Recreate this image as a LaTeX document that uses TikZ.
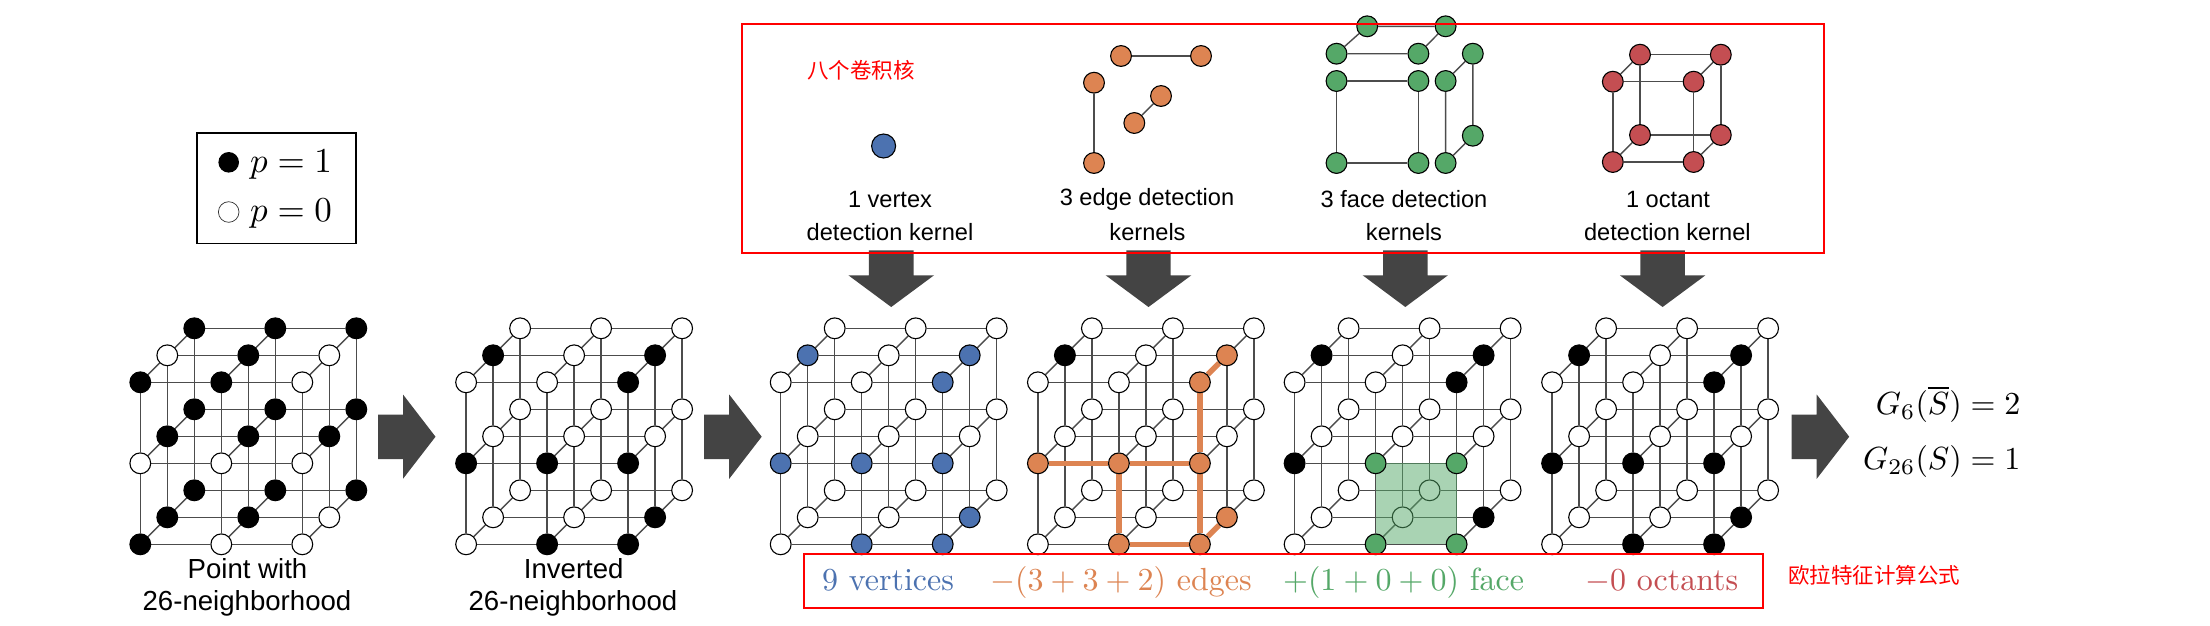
\documentclass[tikz,border=0pt]{standalone}
\usepackage{graphicx}
\usepackage[no-math]{fontspec}
\newfontfamily\arial{Liberation Sans}
\newfontfamily\cjk{Noto Sans CJK SC}
\definecolor{kblue}{HTML}{4C72B0}
\definecolor{korange}{HTML}{DD8452}
\definecolor{kgreen}{HTML}{55A868}
\definecolor{kred}{HTML}{C44E52}
\definecolor{kgray}{HTML}{444444}
\definecolor{boxred}{HTML}{FF0000}
\pgfdeclarelayer{edges}
\pgfdeclarelayer{face}
\pgfdeclarelayer{top}
\pgfsetlayers{edges,main,face,top}
\tikzset{
  dot/.style={circle,draw=black,line width=1.1pt,inner sep=0pt,minimum size=20.8pt},
  pt-w/.style={dot,fill=white},
  pt-b/.style={dot,fill=black},
  pt-B/.style={dot,fill=kblue},
  pt-O/.style={dot,fill=korange},
  pt-G/.style={dot,fill=kgreen},
  pt-R/.style={dot,fill=kred},
  edge/.style={draw=black!70,line width=1.4pt},
  thickedge/.style={draw=korange,line width=5.4pt},
  redbox/.style={draw=boxred,line width=1.9pt},
  blockarrow/.style={fill=kgray},
  sans/.style={font=\arial\fontsize{23.6}{28}\selectfont,text=black,inner sep=0pt,anchor=center},
  capt/.style={font=\arial\fontsize{27.6}{32}\selectfont,text=black,inner sep=0pt,anchor=center},
  cjklabel/.style={font=\cjk\fontsize{21.5}{26}\selectfont,text=boxred,inner sep=0pt,anchor=center},
  maths/.style={inner sep=0pt,anchor=base west},
}
% \makecube{name}{front-left x}{27 states: back to front, top to bottom, left to right}
\newcommand{\makecube}[3]{%
  \foreach \ptc [count=\n from 0] in {#3}{%
    \pgfmathtruncatemacro{\kk}{2-int(\n/9)}%
    \pgfmathtruncatemacro{\jj}{2-mod(int(\n/3),3)}%
    \pgfmathtruncatemacro{\ii}{mod(\n,3)}%
    \def\lay{main}\if G\ptc\def\lay{top}\fi
    \begin{pgfonlayer}{\lay}
      \node[pt-\ptc] (#1-\ii-\jj-\kk) at ({#2+81*\ii+27*\kk},{544.3-81*\jj-27*\kk}) {};
    \end{pgfonlayer}
  }%
  \begin{pgfonlayer}{edges}
    \foreach \a in {0,1,2}\foreach \b in {0,1,2}{%
      \draw[edge] (#1-0-\a-\b) -- (#1-1-\a-\b) (#1-1-\a-\b) -- (#1-2-\a-\b);
      \draw[edge] (#1-\a-0-\b) -- (#1-\a-1-\b) (#1-\a-1-\b) -- (#1-\a-2-\b);
      \draw[edge] (#1-\a-\b-0) -- (#1-\a-\b-1) (#1-\a-\b-1) -- (#1-\a-\b-2);
    }
  \end{pgfonlayer}
}
% \rightblock{left x}
\newcommand{\rightblock}[1]{%
  \fill[blockarrow] (#1,414.5) -- (#1+25,414.5) -- (#1+25,394.5) -- (#1+57.5,436.7)
    -- (#1+25,478.8) -- (#1+25,459) -- (#1,459) -- cycle;
}
% \downblock{centre x}{half shaft}{half head}
\newcommand{\downblock}[3]{%
  \fill[blockarrow] (#1-#2,250.3) -- (#1+#2,250.3) -- (#1+#2,275.3) -- (#1+#3,275.3)
    -- (#1,307) -- (#1-#3,275.3) -- (#1-#2,275.3) -- cycle;
}
\begin{document}
\begin{tikzpicture}[x=1pt,y=-1pt]
\begin{pgfonlayer}{edges}
\fill[white] (0,0) rectangle (2210,625);
\end{pgfonlayer}
\useasboundingbox (0,0) rectangle (2210,625);

% legend
\node[draw=black,line width=1.7pt,minimum width=159pt,minimum height=110.3pt,inner sep=0pt] (legend) at (276.2,188.2) {};
\node[circle,fill=black,inner sep=0pt,minimum size=20.6pt] (legb) at (228.7,162.3) {};
\node[circle,draw=black!80,fill=white,line width=.7pt,inner sep=0pt,minimum size=20.6pt] (legw) at (228.7,212) {};
\node[maths] (legt1) at (250,172.3) {\scalebox{3.5}{$p=1$}};
\node[maths] (legt0) at (250,221.7) {\scalebox{3.5}{$p=0$}};

% cubes
\makecube{A}{140.3}{b,b,b, b,b,b, b,b,b, w,b,w, b,b,b, b,b,w, b,b,w, w,w,w, b,w,w}
\makecube{I}{466.1}{w,w,w, w,w,w, w,w,w, b,w,b, w,w,w, w,w,b, w,w,b, b,b,b, w,b,b}
\makecube{V}{780.7}{w,w,w, w,w,w, w,w,w, B,w,B, w,w,w, w,w,B, w,w,B, B,B,B, w,B,B}
\makecube{E}{1037.9}{w,w,w, w,w,w, w,w,w, b,w,O, w,w,w, w,w,O, w,w,O, O,O,O, w,O,O}
\makecube{F}{1294.6}{w,w,w, w,w,w, w,w,w, b,w,b, w,w,w, w,w,b, w,w,b, b,G,G, w,G,G}
\makecube{C}{1552.1}{w,w,w, w,w,w, w,w,w, b,w,b, w,w,w, w,w,b, w,w,b, b,b,b, w,b,b}

% highlighted edges of the fourth cube
\begin{pgfonlayer}{edges}
  \draw[thickedge] (E-2-2-0) -- (E-2-2-1);
  \draw[thickedge] (E-2-2-0) -- (E-2-1-0);
  \draw[thickedge] (E-2-1-0) -- (E-2-0-0);
  \draw[thickedge] (E-0-1-0) -- (E-1-1-0);
  \draw[thickedge] (E-1-1-0) -- (E-2-1-0);
  \draw[thickedge] (E-1-1-0) -- (E-1-0-0);
  \draw[thickedge] (E-1-0-0) -- (E-2-0-0);
  \draw[thickedge] (E-2-0-0) -- (E-2-0-1);
\end{pgfonlayer}
% highlighted face of the fifth cube
\begin{pgfonlayer}{face}
  \fill[kgreen,opacity=.5] (F-1-0-0.center) -- (F-2-0-0.center) -- (F-2-1-0.center) -- (F-1-1-0.center) -- cycle;
\end{pgfonlayer}

% kernels
\node[pt-B,minimum size=24pt] (kv) at (883.6,146) {};
\node[pt-O] (ka1) at (1121,56) {}; \node[pt-O] (ka2) at (1201,56) {};
\node[pt-O] (kb1) at (1094,82.7) {}; \node[pt-O] (kb2) at (1094,163) {};
\node[pt-O] (kc1) at (1134.3,123) {}; \node[pt-O] (kc2) at (1161,96) {};
\draw[edge] (ka1) -- (ka2); \draw[edge] (kb1) -- (kb2); \draw[edge] (kc1) -- (kc2);

\node[pt-G] (fa1) at (1367.2,26.3) {}; \node[pt-G] (fa2) at (1445.6,26.3) {};
\node[pt-G] (fa3) at (1336.5,53.7) {}; \node[pt-G] (fa4) at (1418.4,53.7) {};
\draw[edge] (fa1) -- (fa2) (fa3) -- (fa4) (fa1) -- (fa3) (fa2) -- (fa4);
\node[pt-G] (fb1) at (1336.5,81) {}; \node[pt-G] (fb2) at (1418.4,81) {};
\node[pt-G] (fb3) at (1336.5,163) {}; \node[pt-G] (fb4) at (1418.4,163) {};
\draw[edge] (fb1) -- (fb2) (fb3) -- (fb4) (fb1) -- (fb3) (fb2) -- (fb4);
\node[pt-G] (fc1) at (1445.6,81) {}; \node[pt-G] (fc2) at (1445.6,163) {};
\node[pt-G] (fc3) at (1472.8,53.7) {}; \node[pt-G] (fc4) at (1472.8,135.7) {};
\draw[edge] (fc1) -- (fc2) (fc3) -- (fc4) (fc1) -- (fc3) (fc2) -- (fc4);

\node[pt-R] (o1) at (1612.8,81.7) {}; \node[pt-R] (o2) at (1693.6,81.7) {};
\node[pt-R] (o3) at (1612.8,162) {}; \node[pt-R] (o4) at (1693.6,162) {};
\node[pt-R] (o5) at (1640,54.7) {}; \node[pt-R] (o6) at (1720.8,54.7) {};
\node[pt-R] (o7) at (1640,135) {}; \node[pt-R] (o8) at (1720.8,135) {};
\draw[edge] (o1) -- (o2) (o3) -- (o4) (o1) -- (o3) (o2) -- (o4);
\draw[edge] (o5) -- (o6) (o7) -- (o8) (o5) -- (o7) (o6) -- (o8);
\draw[edge] (o1) -- (o5) (o2) -- (o6) (o3) -- (o7) (o4) -- (o8);

% kernel labels
\node[sans] (l1a) at (890,199) {1 vertex};
\node[sans] (l1b) at (890,232) {detection kernel};
\node[sans] (l2a) at (1147,199) {3 edge detection};
\node[sans] (l2b) at (1147.5,232) {kernels};
\node[sans] (l3a) at (1404,199) {3 face detection};
\node[sans] (l3b) at (1404,232) {kernels};
\node[sans] (l4a) at (1668,199) {1 octant};
\node[sans] (l4b) at (1667.4,232) {detection kernel};
\node[cjklabel] (title) at (861,70.7) {八个卷积核};
\node[cjklabel] (euler) at (1874,575.7) {欧拉特征计算公式};

% block arrows
\downblock{891.2}{22.4}{42.8}
\downblock{1148.5}{22.2}{42.8}
\downblock{1405.3}{22.2}{42.6}
\downblock{1662.6}{22.2}{42.8}
\rightblock{378}
\rightblock{704.2}
\rightblock{1791.7}

% red boxes
\begin{pgfonlayer}{top}
  \draw[redbox] (741.8,24) rectangle (1824,253);
  \draw[redbox] (803.6,554) rectangle (1762.9,607.7);
\end{pgfonlayer}

% captions
\node[capt] (c1a) at (247.5,569) {Point with};
\node[capt] (c1b) at (247,603) {26-neighborhood};
\node[capt] (c2a) at (573.7,569) {Inverted};
\node[capt] (c2b) at (573,603) {26-neighborhood};

% result
\node[inner sep=0pt,anchor=base east] (g6) at (2020.7,414.3) {\scalebox{3.2}{$G_6(\overline{S})=2$}};
\node[inner sep=0pt,anchor=base east] (g26) at (2020.7,469.3) {\scalebox{3.2}{$G_{26}(S)=1$}};

% formula
\node[maths,text=kblue] (t1) at (822,590) {\scalebox{3.2}{9 vertices}};
\node[maths,text=korange] (t2) at (990,590) {\scalebox{3.2}{$-(3+3+2)$ edges}};
\node[maths,text=kgreen] (t3) at (1283,590) {\scalebox{3.2}{$+(1+0+0)$ face}};
\node[maths,text=kred] (t4) at (1585,590) {\scalebox{3.2}{$-0$ octants}};
\end{tikzpicture}
\end{document}
